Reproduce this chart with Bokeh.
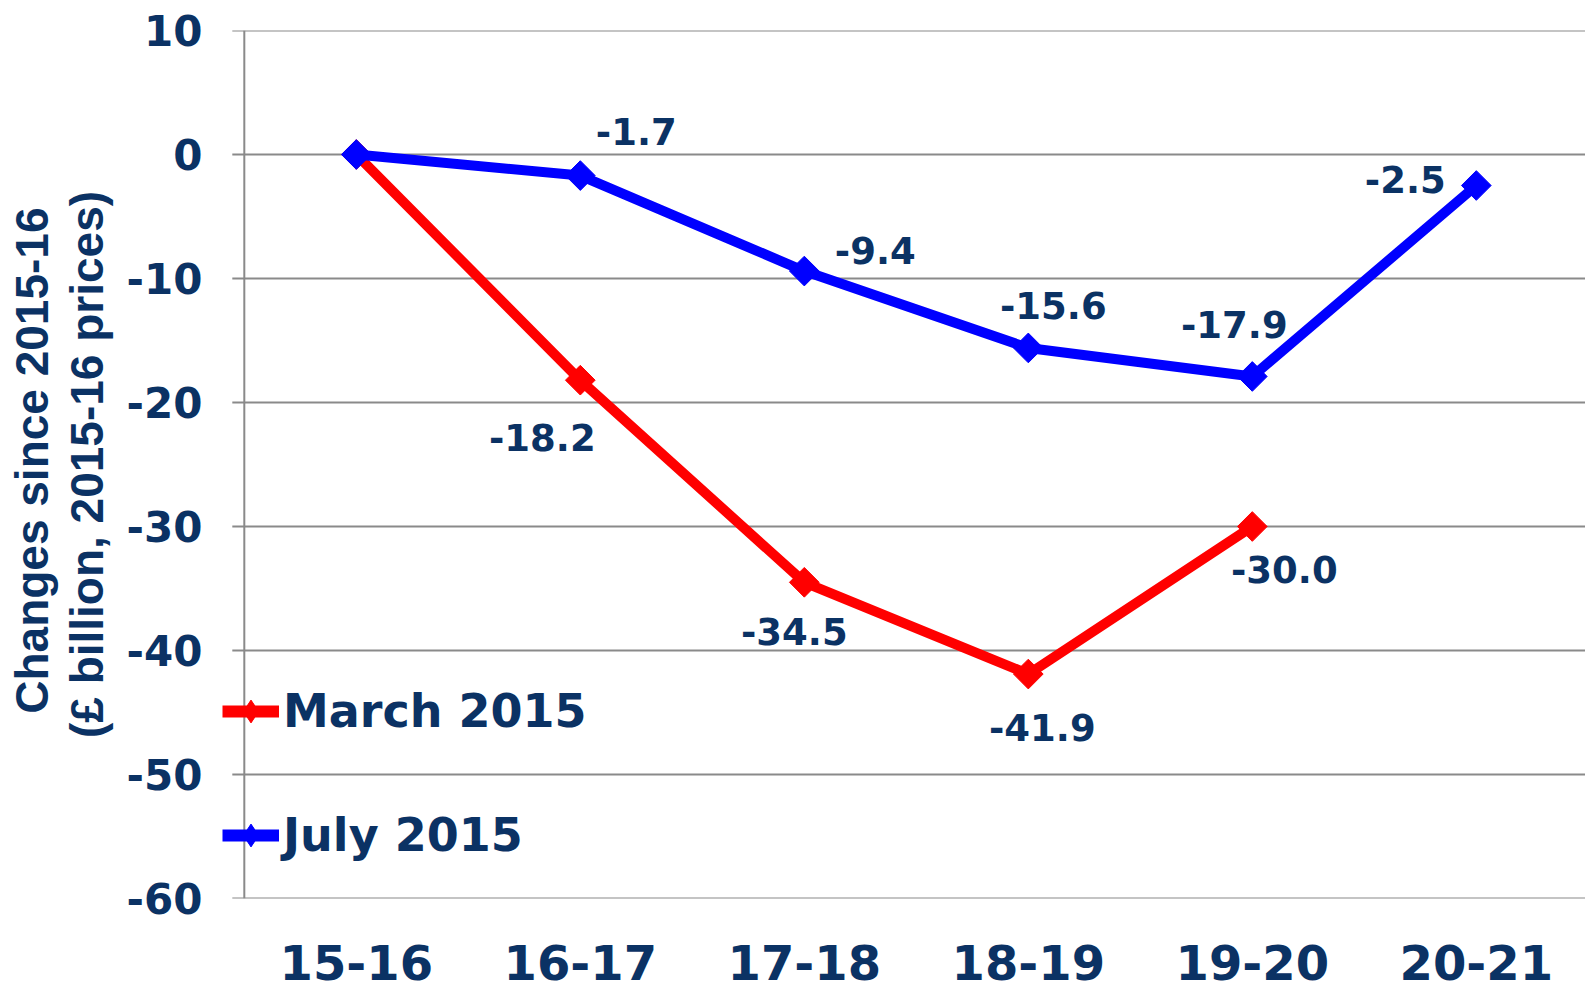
import math
from bokeh.plotting import figure
from bokeh.models import (ColumnDataSource, Range1d, FixedTicker, Title, Legend, LegendItem, Span)
from bokeh.embed import file_html
from bokeh.resources import INLINE

categories = ["15-16", "16-17", "17-18", "18-19", "19-20", "20-21"]
march_2015 = [0.0, -18.2, -34.5, -41.9, -30.0]
july_2015 = [0.0, -1.7, -9.4, -15.6, -17.9, -2.5]
y_ticks = [-60, -50, -40, -30, -20, -10, 0, 10]

# label offsets (screen px) for each labelled point (style, not data)
march_label_dx = [-38, -10, 14, 32]
march_label_dy = [57, 49, 53, 43]
july_label_dx = [56, 71, 25, -18, -71]
july_label_dy = [-44, -21, -42, -52, -6]

NAVY = "#0b3264"
GRID = "#8a8a8a"
RED = "#ff0000"
BLUE = "#0000ff"
FONT = "DejaVu Sans"

X_START, X_END = -0.6286, 5.4875
AXIS_X = -0.5                     # value axis sits at the left category boundary
TICK_OUT = 12 / 224               # tick length in data units (224 px per category)

p = figure(width=1585, height=990, output_backend="svg", toolbar_location=None,
           x_range=Range1d(X_START, X_END), y_range=Range1d(-60, 10),
           min_border_left=215, min_border_right=0, min_border_top=30,
           min_border_bottom=92)
p.outline_line_color = None
p.background_fill_color = "white"

# x axis
p.xaxis.ticker = FixedTicker(ticks=list(range(len(categories))))
p.xaxis.major_label_overrides = {i: c for i, c in enumerate(categories)}
p.xaxis.axis_line_color = None
p.xaxis.major_tick_line_color = None
p.xaxis.minor_tick_line_color = None
p.xaxis.major_label_text_font = FONT
p.xaxis.major_label_text_font_style = "bold"
p.xaxis.major_label_text_font_size = "48px"
p.xaxis.major_label_text_color = NAVY
p.xaxis.major_label_standoff = 40

# y axis (labels only; line and ticks drawn at the category boundary)
p.yaxis.ticker = FixedTicker(ticks=y_ticks)
p.yaxis.major_label_overrides = {t: str(t) for t in y_ticks}
p.yaxis.axis_line_color = None
p.yaxis.major_tick_line_color = None
p.yaxis.major_tick_out = 0
p.yaxis.major_tick_in = 0
p.yaxis.minor_tick_line_color = None
p.yaxis.major_label_text_font = FONT
p.yaxis.major_label_text_font_style = "bold"
p.yaxis.major_label_text_font_size = "42px"
p.yaxis.major_label_text_color = NAVY
p.yaxis.major_label_standoff = 13
p.yaxis.axis_label = "(£ billion, 2015-16 prices)"
p.yaxis.axis_label_text_font = "Liberation Sans"
p.yaxis.axis_label_text_font_style = "bold"
p.yaxis.axis_label_text_font_size = "46px"
p.yaxis.axis_label_text_color = NAVY
p.yaxis.axis_label_standoff = 11

p.xgrid.grid_line_color = None
p.ygrid.grid_line_color = None

# gridlines (with outward tick) at each y tick, starting at the value axis
grid_src = ColumnDataSource(dict(y=y_ticks))
p.segment(x0=AXIS_X - TICK_OUT, x1=X_END, y0="y", y1="y", source=grid_src,
          line_color=GRID, line_width=2, level="underlay")
p.add_layout(Span(location=AXIS_X, dimension="height", line_color=GRID,
                  line_width=2, level="underlay"))

# data
src_m = ColumnDataSource(dict(x=list(range(len(march_2015))), y=march_2015))
src_j = ColumnDataSource(dict(x=list(range(len(july_2015))), y=july_2015))

p.line("x", "y", source=src_m, line_color=RED, line_width=10)
p.scatter("x", "y", source=src_m, marker="square", angle=math.pi / 4,
          size=21, fill_color=RED, line_color=RED)
p.line("x", "y", source=src_j, line_color=BLUE, line_width=10)
p.scatter("x", "y", source=src_j, marker="square", angle=math.pi / 4,
          size=21, fill_color=BLUE, line_color=BLUE)

# legend-only glyphs (hidden in the plot)
leg_renderers = []
for col, src in ((RED, src_m), (BLUE, src_j)):
    l = p.line("x", "y", source=src, line_color=col, line_width=12, visible=False)
    s = p.scatter("x", "y", source=src, marker="diamond", size=30,
                  fill_color=col, line_color=col, visible=False)
    leg_renderers.append([l, s])

# data labels (skip starting zero)
lab_m = ColumnDataSource(dict(
    x=list(range(1, len(march_2015))), y=march_2015[1:],
    t=[f"{v:.1f}" for v in march_2015[1:]], dx=march_label_dx, dy=march_label_dy))
lab_j = ColumnDataSource(dict(
    x=list(range(1, len(july_2015))), y=july_2015[1:],
    t=[f"{v:.1f}" for v in july_2015[1:]], dx=july_label_dx, dy=july_label_dy))
for s in (lab_m, lab_j):
    p.text("x", "y", text="t", source=s, x_offset="dx", y_offset="dy",
           text_font={"value": FONT}, text_font_style="bold",
           text_font_size="37px", text_color=NAVY,
           text_align="center", text_baseline="middle")

# first line of the axis title
p.add_layout(Title(text="Changes since 2015-16", align="right", offset=177,
                   text_font="Liberation Sans", text_font_style="bold",
                   text_font_size="46px", text_color=NAVY, standoff=0), "left")

legend = Legend(items=[LegendItem(label="March 2015", renderers=leg_renderers[0]),
                       LegendItem(label="July 2015", renderers=leg_renderers[1])],
                location=(7, 29), orientation="vertical")
legend.background_fill_alpha = 0
legend.border_line_color = None
legend.padding = 0
legend.margin = 0
legend.spacing = 56
legend.glyph_width = 57
legend.glyph_height = 68
legend.label_standoff = 4
legend.label_text_font = FONT
legend.label_text_font_style = "bold"
legend.label_text_font_size = "46px"
legend.label_text_color = NAVY
p.add_layout(legend, "center")

open("out.html", "w").write(file_html(p, INLINE))
